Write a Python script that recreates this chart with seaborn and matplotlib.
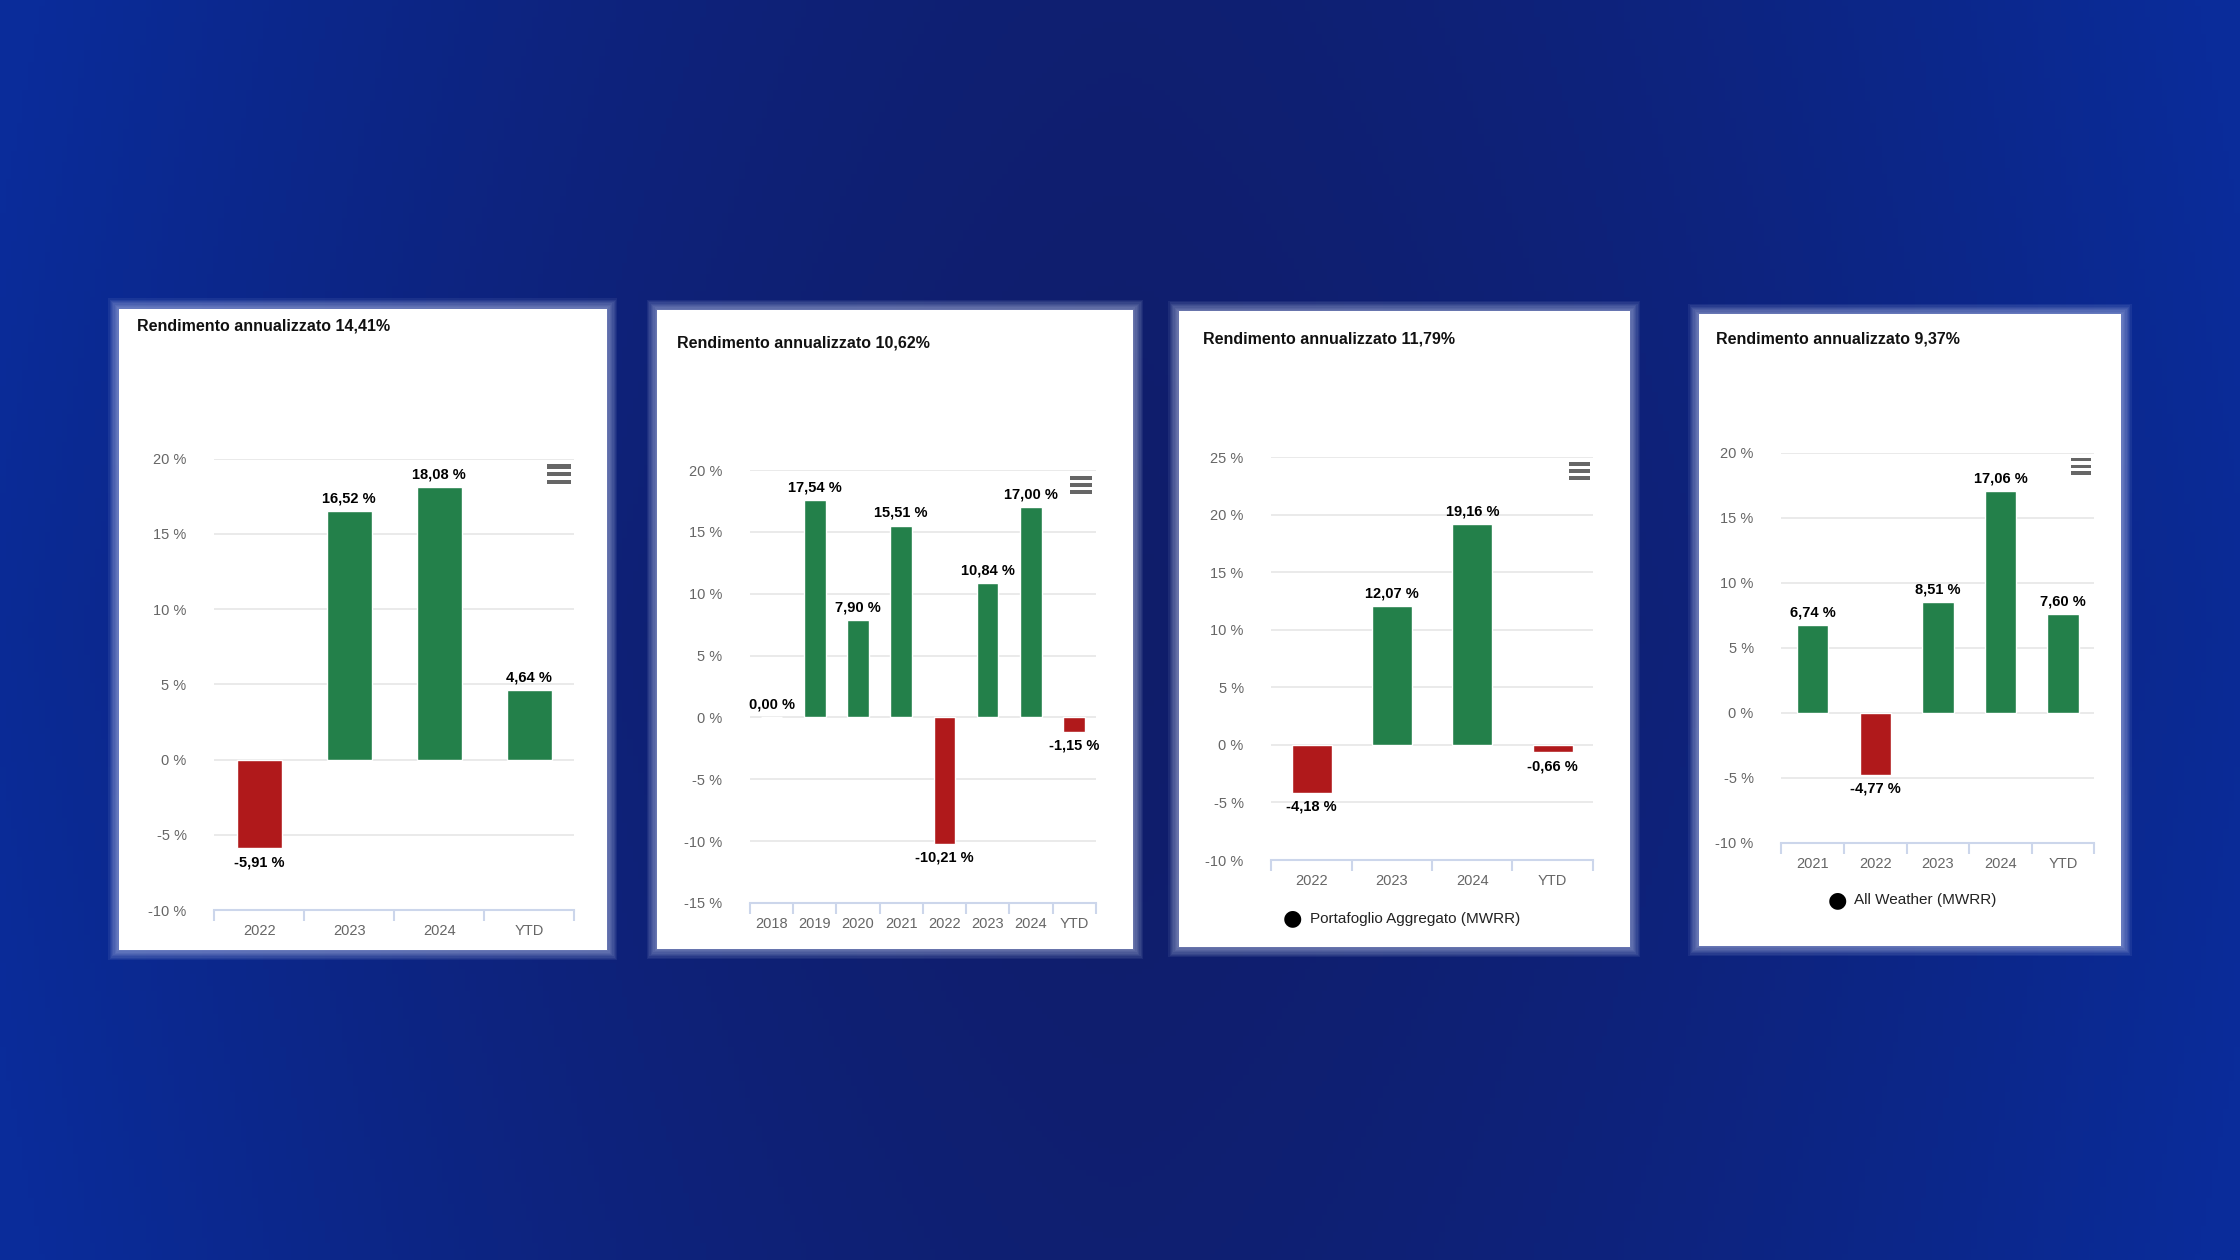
import numpy as np
import pandas as pd
import matplotlib
matplotlib.use("Agg")
import matplotlib.pyplot as plt
from matplotlib.patches import Rectangle
import seaborn as sns

sns.set_theme(style="white")
plt.rcParams['font.family'] = ['Liberation Sans', 'DejaVu Sans']

titles = ["Rendimento annualizzato 14,41%", "Rendimento annualizzato 10,62%",
          "Rendimento annualizzato 11,79%", "Rendimento annualizzato 9,37%"]
cats1 = ["2022", "2023", "2024", "YTD"]
vals1 = [-5.91, 16.52, 18.08, 4.64]
cats2 = ["2018", "2019", "2020", "2021", "2022", "2023", "2024", "YTD"]
vals2 = [0.00, 17.54, 7.90, 15.51, -10.21, 10.84, 17.00, -1.15]
cats3 = ["2022", "2023", "2024", "YTD"]
vals3 = [-4.18, 12.07, 19.16, -0.66]
cats4 = ["2021", "2022", "2023", "2024", "YTD"]
vals4 = [6.74, -4.77, 8.51, 17.06, 7.60]
legends = [None, None, "Portafoglio Aggregato (MWRR)", "All Weather (MWRR)"]
ylims = [(-10, 20), (-15, 20), (-10, 25), (-10, 20)]

W, H = 1568, 882
fig = plt.figure(figsize=(22.4, 12.6), dpi=100)

bg = fig.add_axes([0, 0, 1, 1], zorder=-10)
xx, yy = np.meshgrid(np.linspace(-1, 1, 400), np.linspace(-1, 1, 225))
t = np.clip(np.abs(xx) ** 1.6 * 0.9 + 0.15 * np.abs(yy), 0, 1)
c0 = np.array([0x10, 0x1d, 0x6a]) / 255
c1 = np.array([0x0a, 0x2c, 0x9a]) / 255
img = c0[None, None, :] * (1 - t[..., None]) + c1[None, None, :] * t[..., None]
bg.imshow(img, aspect="auto", extent=[0, 1, 0, 1])
bg.set_xlim(0, 1); bg.set_ylim(0, 1)
bg.set_axis_off()

panels = [(83, 216, 425, 665), (460, 217, 793, 664), (825, 218, 1141, 663), (1189, 220, 1485, 662)]
plots = [(150, 321, 402, 637), (525, 329, 767, 632), (890, 320, 1115, 602), (1247, 317, 1466, 590)]
title_pos = [(96, 228), (474, 240), (842, 237), (1201, 237)]
legend_pos = [None, None, (905, 643), (1286, 630)]

def fx(px): return px / W
def fy(py): return 1 - py / H

data = [(cats1, vals1), (cats2, vals2), (cats3, vals3), (cats4, vals4)]
green, red = "#23804a", "#b0191b"

for i in range(4):
    x0, y0, x1, y1 = panels[i]
    for k in range(8, 0, -1):
        g = k * 0.9
        bg.add_patch(Rectangle((fx(x0 - g), fy(y1 + g)), fx(x1 - x0 + 2 * g), (y1 - y0 + 2 * g) / H,
                               facecolor="#dfe6ff", alpha=0.07, edgecolor="none", transform=fig.transFigure))
    pa = fig.add_axes([fx(x0), fy(y1), fx(x1 - x0), (y1 - y0) / H], zorder=1)
    pa.set_xlim(0, 1); pa.set_ylim(0, 1); pa.set_axis_off()
    pa.add_patch(Rectangle((0, 0), 1, 1, facecolor="white", edgecolor="none"))
    fig.text(fx(title_pos[i][0]), fy(title_pos[i][1]), titles[i], fontsize=11.5, fontweight="bold",
             va="center", ha="left", color="#111111", zorder=5)

    cats, vals = data[i]
    px0, py0, px1, py1 = plots[i]
    ax = fig.add_axes([fx(px0), fy(py1), fx(px1 - px0), (py1 - py0) / H], zorder=2)
    df = pd.DataFrame({"cat": cats, "val": vals})
    cols = [green if v >= 0 else red for v in vals]
    sns.barplot(data=df, x="cat", y="val", hue="cat", palette=cols, legend=False, width=0.5,
                saturation=1, ax=ax, zorder=3)
    ax.set_facecolor("none")
    lo, hi = ylims[i]
    ax.set_ylim(lo, hi)
    ax.set_xlim(-0.5, len(cats) - 0.5)
    ticks = np.arange(lo, hi + 0.1, 5)
    ax.set_yticks(ticks)
    ax.set_yticklabels([f"{int(v)} %" for v in ticks], fontsize=10.5, color="#666666")
    ax.grid(axis="y", color="#e6e6e6", lw=1.2, zorder=0)
    for s in ["top", "right", "left"]:
        ax.spines[s].set_visible(False)
    ax.spines["bottom"].set_color("#ccd6eb"); ax.spines["bottom"].set_linewidth(1.5)
    ax.set_xlabel(""); ax.set_ylabel("")
    ax.tick_params(axis="y", length=0, pad=20)
    ax.tick_params(axis="x", which="major", bottom=False, length=0, labelsize=10.5, labelcolor="#666666", pad=10)
    ax.set_xticks(np.arange(-0.5, len(cats)), minor=True)
    ax.tick_params(axis="x", which="minor", bottom=True, length=8, color="#ccd6eb", width=1.5)
    for j, v in enumerate(vals):
        lab = f"{v:.2f} %".replace(".", ",")
        if v >= 0:
            ax.annotate(lab, (j, v), xytext=(0, 4), textcoords="offset points", ha="center", va="bottom",
                        fontsize=10.5, fontweight="bold", color="black", zorder=5)
        else:
            ax.annotate(lab, (j, v), xytext=(0, -5), textcoords="offset points", ha="center", va="top",
                        fontsize=10.5, fontweight="bold", color="black", zorder=5)
    for k in range(3):
        ax.add_patch(Rectangle((0.925, 0.978 - k * 0.017), 0.065, 0.009, transform=ax.transAxes,
                               facecolor="#666666", edgecolor="none", zorder=6, clip_on=False))
    if legends[i]:
        lx, ly = legend_pos[i]
        fig.text(fx(lx), fy(ly), "\u25CF", fontsize=16, ha="center", va="center", color="black", zorder=5,
                 family=["DejaVu Sans"])
        fig.text(fx(lx + 12), fy(ly), legends[i], fontsize=11, ha="left", va="center", color="#222222", zorder=5)

fig.savefig("out.png", dpi=100)
